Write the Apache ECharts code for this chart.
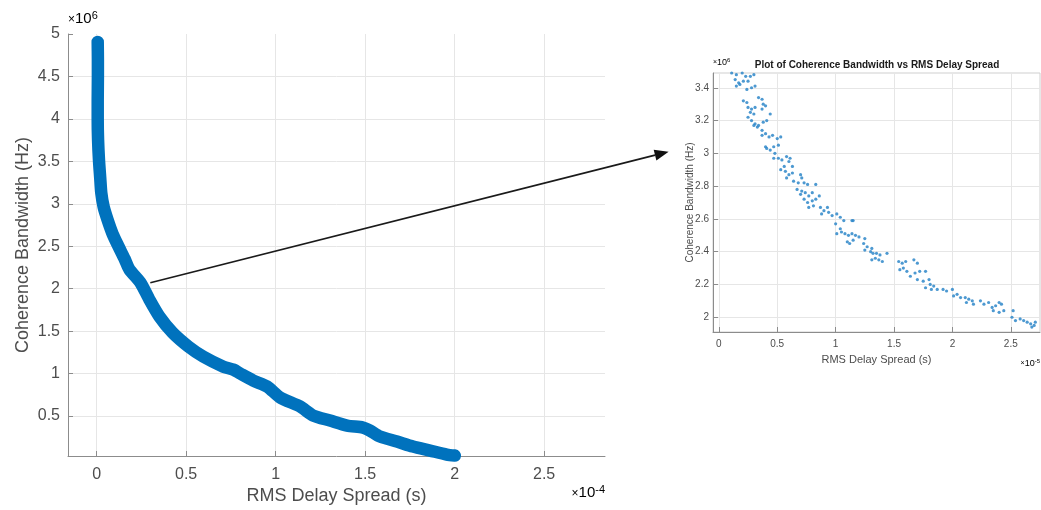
<!DOCTYPE html>
<html><head><meta charset="utf-8">
<script src="https://cdn.jsdelivr.net/npm/echarts@6/dist/echarts.min.js"></script>
<style>html,body{margin:0;padding:0;background:#fff}#c{width:1041px;height:510px}</style>
</head><body><div id="c"></div>
<script>
// Main panel: RMS delay spread (x1e-4 s) vs coherence bandwidth (x1e6 Hz)
const mainDelay = [0.006,0.007,0.007,0.006,0.006,0.008,0.013,0.020,0.026,0.039,0.061,0.089,0.123,0.156,0.184,0.245,0.295,0.351,0.424,0.513,0.596,0.708,0.764,0.803,0.875,0.953,1.026,1.137,1.210,1.304,1.399,1.488,1.527,1.583,1.678,1.767,1.862,1.956,2.001];
const mainBandwidth = [4.906,4.694,4.494,4.224,3.988,3.753,3.518,3.306,3.129,2.965,2.812,2.647,2.494,2.353,2.224,2.071,1.871,1.671,1.482,1.318,1.200,1.082,1.047,1.000,0.918,0.847,0.718,0.612,0.506,0.447,0.388,0.365,0.329,0.259,0.200,0.141,0.094,0.047,0.035];

// Inset panel: RMS delay spread (x1e-5 s) vs coherence bandwidth (x1e6 Hz)
const insetDelay = [0.11,0.15,0.20,0.23,0.27,0.30,0.14,0.17,0.15,0.18,0.21,0.25,0.28,0.24,0.31,
  0.21,0.24,0.25,0.28,0.27,0.31,0.34,0.37,0.38,0.40,0.37,0.30,
  0.25,0.28,0.31,0.30,0.34,0.33,0.38,0.41,0.44,0.37,0.40,0.43,0.46,0.50,0.53,0.37,
  0.40,0.41,0.44,0.47,0.51,0.48,0.47,0.51,0.54,0.58,0.61,0.60,0.63,0.56,0.53,0.57,0.60,0.63,0.58,0.64,0.70,0.71,0.68,0.73,0.76,
  0.67,0.71,0.70,0.74,0.77,0.80,0.83,0.73,0.76,0.80,0.83,0.86,0.77,0.81,0.87,0.90,0.88,0.93,0.94,0.97,1.01,1.00,1.04,1.01,
  1.04,1.07,1.14,1.15,1.05,1.08,1.11,1.14,1.17,1.10,1.12,1.15,1.20,1.25,1.24,1.27,1.31,1.25,1.30,1.32,1.35,1.38,1.44,1.31,1.34,1.37,1.40,
  1.54,1.57,1.60,1.67,1.70,1.55,1.58,1.61,1.64,1.68,1.72,1.77,1.70,1.75,1.80,1.81,1.84,1.77,1.87,1.82,
  1.92,1.95,2.00,2.01,2.04,2.07,2.11,2.14,2.17,2.12,2.18,2.24,2.27,2.31,2.34,2.37,2.40,2.42,2.35,2.40,2.44,2.52,2.51,2.54,2.58,2.61,2.64,2.67,2.70,2.71,2.68];
const insetBandwidth = [3.49,3.48,3.49,3.47,3.47,3.48,3.45,3.43,3.41,3.42,3.44,3.44,3.40,3.39,3.41,
  3.32,3.31,3.28,3.27,3.25,3.28,3.34,3.33,3.30,3.29,3.27,3.24,
  3.22,3.20,3.18,3.17,3.17,3.16,3.19,3.20,3.24,3.14,3.12,3.10,3.11,3.09,3.10,3.11,
  3.04,3.03,3.02,3.04,3.05,3.00,2.97,2.97,2.96,2.98,2.97,2.95,2.92,2.92,2.90,2.89,2.87,2.88,2.85,2.83,2.87,2.85,2.82,2.82,2.81,
  2.78,2.77,2.75,2.76,2.74,2.76,2.81,2.72,2.70,2.71,2.72,2.74,2.67,2.68,2.67,2.65,2.63,2.67,2.64,2.62,2.63,2.57,2.54,2.51,
  2.61,2.59,2.59,2.59,2.52,2.51,2.50,2.51,2.50,2.46,2.45,2.47,2.49,2.48,2.45,2.43,2.42,2.41,2.40,2.39,2.39,2.38,2.39,2.35,2.36,2.35,2.34,
  2.34,2.33,2.34,2.35,2.33,2.29,2.30,2.28,2.25,2.27,2.28,2.28,2.23,2.22,2.23,2.20,2.19,2.18,2.17,2.17,
  2.17,2.16,2.17,2.13,2.14,2.12,2.12,2.11,2.10,2.09,2.08,2.10,2.08,2.09,2.06,2.07,2.09,2.08,2.04,2.03,2.04,2.04,2.00,1.98,1.99,1.98,1.97,1.96,1.95,1.97,1.94];

const FONT = '"Liberation Sans", Arial, Helvetica, sans-serif';
const AX = '#8c8c8c', LBL = '#4d4d4d', GRID = '#e6e6e6', BLUE = '#0072BD';

const chart = echarts.init(document.getElementById('c'), null, {renderer: 'canvas'});

function axisBase(fs, gap, name, nameFs, extra) {
  return Object.assign({
    type: 'value',
    axisLine: {show: true, onZero: false, lineStyle: {color: AX, width: 1}},
    axisTick: {show: true, inside: true, length: 5, lineStyle: {color: AX}},
    axisLabel: {showMinLabel: false, showMaxLabel: false, color: LBL, fontSize: fs, fontFamily: FONT},
    splitLine: {show: true, showMinLine: false, showMaxLine: false, lineStyle: {color: GRID, width: 1}},
    name: name, nameLocation: 'middle', nameGap: gap, nameMoveOverlap: false,
    nameTextStyle: {color: LBL, fontSize: nameFs, fontFamily: FONT}
  }, extra);
}

const option = {
  animation: false,
  backgroundColor: '#fff',
  grid: [
    {left: 68, top: 34, width: 537, height: 423},
    {left: 713, top: 73, width: 327, height: 259, show: true, borderColor: '#cfcfcf', borderWidth: 1, backgroundColor: 'transparent'}
  ],
  xAxis: [
    axisBase(16, 31, 'RMS Delay Spread (s)', 18, {gridIndex: 0, min: -0.16, max: 2.84, splitNumber: 6, minInterval: 0.5, maxInterval: 0.5}),
    axisBase(10, 22, 'RMS Delay Spread (s)', 11, {gridIndex: 1, min: -0.05, max: 2.75, splitNumber: 6, minInterval: 0.5, maxInterval: 0.5})
  ],
  yAxis: [
    axisBase(16, 36, 'Coherence Bandwidth (Hz)', 18, {gridIndex: 0, min: 0.03, max: 5, splitNumber: 10, minInterval: 0.5, maxInterval: 0.5}),
    axisBase(10, 18, 'Coherence Bandwidth (Hz)', 10, {gridIndex: 1, min: 1.91, max: 3.49, splitNumber: 8, minInterval: 0.2, maxInterval: 0.2})
  ],
  series: [
    {
      type: 'line', xAxisIndex: 0, yAxisIndex: 0, silent: true, clip: false,
      showSymbol: false, symbol: 'none', smooth: 0.25,
      data: mainDelay.map((x, i) => [x, mainBandwidth[i]]),
      lineStyle: {color: BLUE, width: 12.5, cap: 'round', join: 'round'}
    },
    {
      type: 'scatter', xAxisIndex: 1, yAxisIndex: 1, silent: true, clip: true,
      symbolSize: 3.2,
      data: insetDelay.map((x, i) => [x, insetBandwidth[i]]),
      itemStyle: {color: '#2e87c9', opacity: 0.85}
    }
  ]
};
option.xAxis[0].axisLabel.margin = 11;
option.yAxis[0].axisLabel.margin = 8;
option.xAxis[1].axisLabel.margin = 7;
option.yAxis[1].axisLabel.margin = 4;
option.yAxis[0].axisLabel.showMaxLabel = true;
option.yAxis[1].axisLabel.showMaxLabel = false;

chart.setOption(option);

// Arrow from the main curve to the inset
const p0 = chart.convertToPixel({gridIndex: 0}, [0.30, 2.07]);
const p1 = chart.convertToPixel({gridIndex: 1}, [-0.43, 3.01]);
const dx = p1[0] - p0[0], dy = p1[1] - p0[1];
const L = Math.sqrt(dx * dx + dy * dy), ux = dx / L, uy = dy / L;
const hl = 14, hw = 5.5;
const base = [p1[0] - ux * hl, p1[1] - uy * hl];
const head = [p1, [base[0] - uy * hw, base[1] + ux * hw], [base[0] + uy * hw, base[1] - ux * hw]];

const sup = (fs) => ({
  a: {fontSize: fs, fontFamily: FONT, color: LBL},
  b: {fontSize: Math.round(fs * 0.7), fontFamily: FONT, color: LBL, verticalAlign: 'top', padding: [0, 0, fs * 0.5, 0]},
  x: {fontSize: Math.round(fs * 0.8), fontFamily: FONT, color: LBL}
});

chart.setOption({
  graphic: [
    {type: 'line', shape: {x1: p0[0], y1: p0[1], x2: base[0], y2: base[1]}, style: {stroke: '#1a1a1a', lineWidth: 1.6}, z: 100},
    {type: 'polygon', shape: {points: head}, style: {fill: '#111'}, z: 100},
    {type: 'text', left: 68, top: 10, style: {text: '{x|×}{a|10}{b|6}', rich: sup(15)}, z: 100},
    {type: 'text', right: 436, top: 484, style: {text: '{x|×}{a|10}{b|-4}', rich: sup(15)}, z: 100},
    {type: 'text', left: 713, top: 57, style: {text: '{x|×}{a|10}{b|6}', rich: sup(9)}, z: 100},
    {type: 'text', right: 1, top: 358, style: {text: '{x|×}{a|10}{b|-5}', rich: sup(9)}, z: 100},
    {type: 'text', x: 877, y: 65, style: {text: 'Plot of Coherence Bandwidth vs RMS Delay Spread', fontSize: 10, fontWeight: 'bold', fontFamily: FONT, fill: '#1a1a1a', textAlign: 'center', textVerticalAlign: 'middle'}, z: 100}
  ]
});
</script></body></html>
